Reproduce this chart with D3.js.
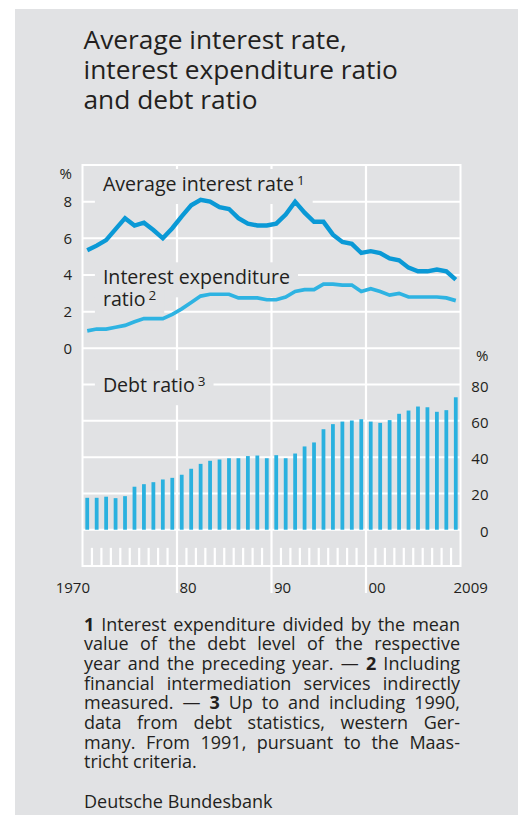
<!DOCTYPE html>
<html>
<head>
<meta charset="utf-8">
<script src="https://cdn.jsdelivr.net/npm/d3@7"></script>
<style>
  body { margin: 0; background: #fff; }
  svg text { font-family: "Open Sans", sans-serif; fill: #231f20; }
</style>
</head>
<body>
<div id="chart"></div>
<script>
// Data (annual, 1970-2009)
var years = [1970, 1971, 1972, 1973, 1974, 1975, 1976, 1977, 1978, 1979,
             1980, 1981, 1982, 1983, 1984, 1985, 1986, 1987, 1988, 1989,
             1990, 1991, 1992, 1993, 1994, 1995, 1996, 1997, 1998, 1999,
             2000, 2001, 2002, 2003, 2004, 2005, 2006, 2007, 2008, 2009];

var avgInterestRate = [5.35, 5.6, 5.9, 6.5, 7.1, 6.7, 6.85, 6.45, 6.0, 6.55,
                       7.2, 7.8, 8.1, 8.0, 7.7, 7.6, 7.1, 6.8, 6.7, 6.7,
                       6.8, 7.3, 8.0, 7.4, 6.9, 6.9, 6.2, 5.8, 5.7, 5.2,
                       5.3, 5.2, 4.9, 4.8, 4.4, 4.2, 4.2, 4.3, 4.2, 3.75];

var interestExpRatio = [0.95, 1.05, 1.05, 1.15, 1.25, 1.45, 1.62, 1.62, 1.62, 1.85,
                        2.15, 2.5, 2.85, 2.95, 2.95, 2.95, 2.75, 2.75, 2.75, 2.65,
                        2.65, 2.8, 3.1, 3.2, 3.2, 3.5, 3.5, 3.45, 3.45, 3.1,
                        3.25, 3.1, 2.9, 3.0, 2.8, 2.8, 2.8, 2.8, 2.75, 2.6];

var debtRatio = [17.6, 17.6, 18.2, 17.4, 18.5, 23.7, 25.1, 26.2, 27.7, 28.6,
                 30.3, 33.6, 36.3, 38.0, 38.7, 39.4, 39.4, 40.6, 40.9, 39.4,
                 41.1, 39.4, 42.0, 45.9, 48.1, 55.4, 58.2, 59.6, 60.2, 60.9,
                 59.6, 58.9, 60.4, 63.9, 65.7, 67.9, 67.5, 65.0, 65.9, 73.0];

var topTicks = [0, 2, 4, 6, 8];
var bottomTicks = [0, 20, 40, 60, 80];
var decades = [1980, 1990, 2000];
var xLabelYears = [1970, 1980, 1990, 2000, 2009];
var xLabels = ["1970", "80", "90", "00", "2009"];

var titleLines = ["Average interest rate,", "interest expenditure ratio", "and debt ratio"];

// footnote lines; "*" marks a bold footnote number
var footLines = [
  "*1 Interest expenditure divided by the mean",
  "value of the debt level of the respective",
  "year and the preceding year. \u2014 *2 Including",
  "financial intermediation services indirectly",
  "measured. \u2014 *3 Up to and including 1990,",
  "data from debt statistics, western Ger-",
  "many. From 1991, pursuant to the Maas-",
  "tricht criteria."
];
var source = "Deutsche Bundesbank";

function init() {
    var w = 518, h = 815;
    var left = 82.5, right = 460.5;
    var top = 165, mid = 348.3, bottom = 566;

    var bg = "#e1e2e4";
    var grid = "#ffffff";

    var svg = d3.select("#chart").append("svg")
        .attr("width", w)
        .attr("height", h);

    svg.append("rect")
        .attr("x", 15).attr("y", 9)
        .attr("width", w - 15).attr("height", h - 9)
        .attr("fill", bg);

    // scales
    var xScale = d3.scaleLinear().domain([1970, 2010]).range([left, right]);
    var xBand = d3.scaleBand().domain(years).range([left, right])
        .paddingInner(0.6).paddingOuter(0.3);
    var yTop = d3.scaleLinear().domain([0, 10]).range([mid, top]);
    var yBot = d3.scaleLinear().domain([-20, 100]).range([bottom, mid]);

    // title (one text block)
    svg.append("text")
        .attr("font-size", "26.3px")
        .selectAll("tspan")
        .data(titleLines).enter().append("tspan")
        .attr("x", left + 1)
        .attr("y", function(d, i) { return 48.5 + i * 30.2; })
        .text(function(d) { return d; });

    // horizontal gridlines
    svg.append("g").selectAll("line")
        .data(topTicks.filter(function(d) { return d > 0; })).enter().append("line")
        .attr("x1", left).attr("x2", right)
        .attr("y1", yTop).attr("y2", yTop)
        .attr("stroke", grid).attr("stroke-width", 2);

    svg.append("g").selectAll("line")
        .data(bottomTicks).enter().append("line")
        .attr("x1", left).attr("x2", right)
        .attr("y1", yBot).attr("y2", yBot)
        .attr("stroke", grid).attr("stroke-width", 2);

    // panel divider
    svg.append("line")
        .attr("x1", left).attr("x2", right)
        .attr("y1", yTop(0)).attr("y2", yTop(0))
        .attr("stroke", grid).attr("stroke-width", 2);

    // decade lines run down to the labels
    svg.append("g").selectAll("line")
        .data(decades).enter().append("line")
        .attr("x1", xScale).attr("x2", xScale)
        .attr("y1", top).attr("y2", 593)
        .attr("stroke", grid).attr("stroke-width", 2.2);

    // small year ticks in the strip under the bars
    svg.append("g").selectAll("line")
        .data(years.filter(function(d) { return d > 1970 && d % 10 !== 0; })).enter().append("line")
        .attr("x1", xScale).attr("x2", xScale)
        .attr("y1", yBot(-10)).attr("y2", yBot(-20))
        .attr("stroke", grid).attr("stroke-width", 2.2);

    // frame
    svg.append("rect")
        .attr("x", left).attr("y", top)
        .attr("width", right - left).attr("height", bottom - top)
        .attr("fill", "none")
        .attr("stroke", grid).attr("stroke-width", 2);

    // series labels with background boxes that knock out the grid
    var labelSize = 19.6, supSize = 13.5;
    function label(lines) {
        var g = svg.append("g");
        // measure each line first to size its box
        lines.forEach(function(l) {
            var tmp = g.append("text").attr("x", l.x).attr("y", l.y)
                .attr("font-size", labelSize + "px").text(l.txt);
            if (l.sup) tmp.append("tspan").attr("dx", 3).attr("dy", -6)
                .attr("font-size", supSize + "px").text(l.sup);
            var bb = tmp.node().getBBox();
            tmp.remove();
            g.append("rect").attr("fill", bg)
                .attr("x", bb.x - 8).attr("y", bb.y - 1)
                .attr("width", bb.width + 16).attr("height", bb.height + 8);
        });
        var t = g.append("text").attr("font-size", labelSize + "px");
        lines.forEach(function(l) {
            t.append("tspan").attr("x", l.x).attr("y", l.y).text(l.txt);
            if (l.sup) t.append("tspan").attr("dx", 3).attr("dy", -6)
                .attr("font-size", supSize + "px").text(l.sup);
        });
    }
    var lx = xScale(1972) + 1.5;
    label([{x: lx, y: yTop(8.58), txt: "Average interest rate", sup: "1"}]);
    label([{x: lx, y: yTop(3.49), txt: "Interest expenditure"},
           {x: lx, y: yTop(2.33), txt: "ratio", sup: "2"}]);
    label([{x: lx, y: yBot(75.8), txt: "Debt ratio", sup: "3"}]);

    // bars
    svg.append("g").selectAll("rect")
        .data(debtRatio).enter().append("rect")
        .attr("x", function(d, i) { return xBand(years[i]); })
        .attr("width", xBand.bandwidth())
        .attr("y", function(d) { return yBot(d); })
        .attr("height", function(d) { return yBot(0) - yBot(d); })
        .attr("fill", "#2ab1df");

    // lines
    var lineTop = d3.line()
        .x(function(d, i) { return xScale(years[i] + 0.5); })
        .y(function(d) { return yTop(d); });

    svg.append("path")
        .datum(interestExpRatio)
        .attr("d", lineTop)
        .attr("fill", "none")
        .attr("stroke", "#2eb3e2")
        .attr("stroke-width", 3.7);

    svg.append("path")
        .datum(avgInterestRate)
        .attr("d", lineTop)
        .attr("fill", "none")
        .attr("stroke", "#0a99d6")
        .attr("stroke-width", 4.4);

    // left axis
    var yAxisL = svg.append("g");
    yAxisL.selectAll("text")
        .data(topTicks).enter().append("text")
        .attr("x", 72).attr("y", function(d) { return yTop(d) + 5.5; })
        .attr("text-anchor", "end")
        .attr("font-size", "15px")
        .text(function(d) { return d; });
    yAxisL.append("text")
        .attr("x", 72).attr("y", yTop(10) + 14)
        .attr("text-anchor", "end")
        .attr("font-size", "15px")
        .text("%");

    // right axis
    var yAxisR = svg.append("g");
    yAxisR.selectAll("text")
        .data(bottomTicks).enter().append("text")
        .attr("x", 488.5).attr("y", function(d) { return yBot(d) + 7; })
        .attr("text-anchor", "end")
        .attr("font-size", "15px")
        .text(function(d) { return d; });
    yAxisR.append("text")
        .attr("x", 488.5).attr("y", yBot(100) + 13)
        .attr("text-anchor", "end")
        .attr("font-size", "15px")
        .text("%");

    // x labels
    svg.append("g").selectAll("text")
        .data(xLabels).enter().append("text")
        .attr("x", function(d, i) {
            var yr = xLabelYears[i];
            return yr === 1970 ? xScale(yr) + 7.5 : xScale(yr) + 2.5;
        })
        .attr("y", 593)
        .attr("text-anchor", function(d, i) { return i === 0 ? "end" : "start"; })
        .attr("font-size", "15px")
        .text(function(d) { return d; });

    // footnotes, justified like the printed version (one text block)
    var fx = 84, fw = 376, fy = 630.7, lh = 19.65;
    var fsize = 18;
    function wordWidth(word) {
        var tmp = svg.append("text").attr("font-size", fsize + "px")
            .attr("font-weight", word.bold ? "bold" : null).text(word.t);
        var ww = tmp.node().getComputedTextLength();
        tmp.remove();
        return ww;
    }
    var spaceW = (function() {
        var a = svg.append("text").attr("font-size", fsize + "px").text("a a");
        var b = svg.append("text").attr("font-size", fsize + "px").text("aa");
        var s = a.node().getComputedTextLength() - b.node().getComputedTextLength();
        a.remove(); b.remove();
        return s;
    })();
    var foot = svg.append("text").attr("font-size", fsize + "px");
    footLines.forEach(function(line, li) {
        var words = line.split(" ").map(function(s) {
            return s.charAt(0) === "*" ? {t: s.slice(1), bold: true} : {t: s, bold: false};
        });
        var widths = words.map(wordWidth);
        var total = d3.sum(widths);
        var last = li === footLines.length - 1;
        var gap = last ? spaceW : (fw - total) / (words.length - 1);
        var cx = fx;
        words.forEach(function(wd, wi) {
            foot.append("tspan")
                .attr("x", cx).attr("y", fy + li * lh)
                .attr("font-weight", wd.bold ? "bold" : null)
                .text(wd.t);
            cx += widths[wi] + gap;
        });
    });

    svg.append("text")
        .attr("x", fx).attr("y", 808.3)
        .attr("font-size", fsize + "px")
        .text(source);
}
window.onload = init;
</script>
</body>
</html>
